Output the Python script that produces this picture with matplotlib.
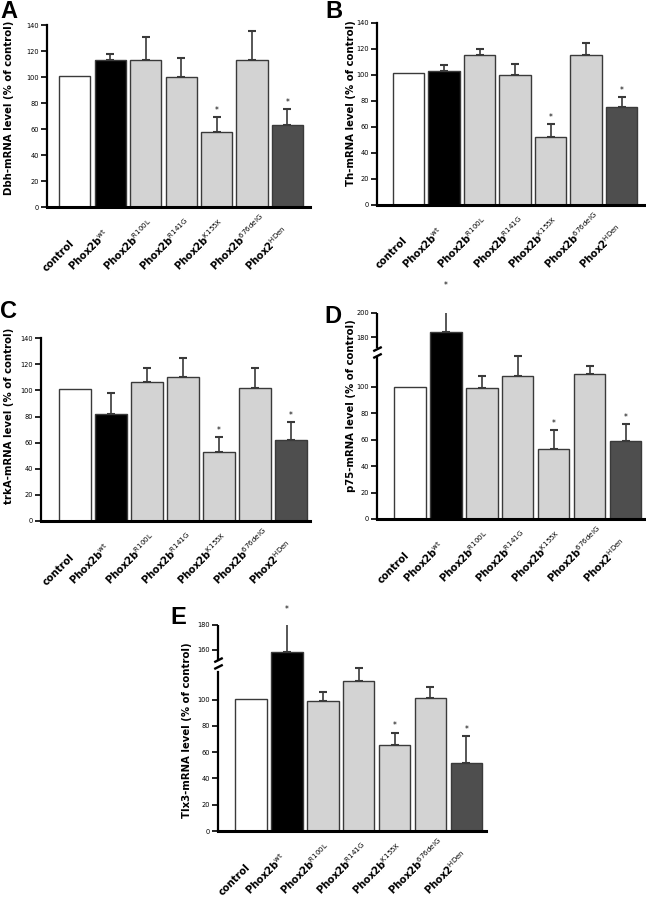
import numpy as np
import matplotlib
matplotlib.use("Agg")
import matplotlib.pyplot as plt
from matplotlib.path import Path

plt.rcParams['font.family'] = 'DejaVu Sans'

groups = ['control', 'Phox2b$^{\\mathrm{wt}}$', 'Phox2b$^{\\mathrm{R100L}}$', 'Phox2b$^{\\mathrm{R141G}}$',
          'Phox2b$^{\\mathrm{K155X}}$', 'Phox2b$^{\\mathrm{676delG}}$', 'Phox2$^{\\mathrm{HDen}}$']
colors = ['white', 'black', '#d3d3d3', '#d3d3d3', '#d3d3d3', '#d3d3d3', '#4e4e4e']

dbh_mean = [101, 113, 113.5, 100, 57.5, 113.5, 63]
dbh_err = [0, 4.5, 17.5, 15, 11.5, 22, 12.5]
dbh_stars = [4, 6]

th_mean = [101, 103, 115, 100, 52, 115, 75]
th_err = [0, 4.5, 5, 8.5, 10, 9.5, 8]
th_stars = [4, 6]

trka_mean = [101, 82, 106.5, 110, 53, 102, 62]
trka_err = [0, 16, 10.5, 15, 11, 15, 13.5]
trka_stars = [4, 6]

p75_mean = [100, 184, 99, 108.5, 53, 109.5, 59]
p75_err = [0, 32.6, 9.5, 15, 14, 6, 13]
p75_stars = [1, 4, 6]

tlx3_mean = [100.5, 158, 99, 114, 65.5, 101, 52]
tlx3_err = [0, 29, 7, 10, 9.5, 9, 20.3]
tlx3_stars = [1, 4, 6]

fig = plt.figure(figsize=(6.46, 8.99), dpi=100)


def panel(rect, means, errs, stars, ylabel, xlim, ymax, ticks, lab_xy, brk=None):
    ax = fig.add_axes(rect)
    if brk is not None:
        lo, hi, uhi, r, seg_lo, seg_hi = brk
        xp = [-1000, lo, hi, 1000]
        fp = [-1000, lo, uhi, uhi + (1000 - hi) * r]
        ax.set_yscale('function', functions=(lambda v: np.interp(v, xp, fp),
                                             lambda u: np.interp(u, fp, xp)))
    x = np.arange(len(means))
    ax.bar(x, means, width=0.88, color=colors, edgecolor='#3a3a3a', linewidth=1.0, zorder=2)
    ax.errorbar(x[1:], means[1:], yerr=[np.zeros(len(means) - 1), errs[1:]], fmt='none',
                ecolor='#3a3a3a', elinewidth=1.2, capsize=3.2, capthick=1.5, zorder=1)
    for i in stars:
        ax.annotate('*', (x[i], means[i] + errs[i]), xytext=(0, 1.5), textcoords='offset points',
                    ha='center', va='bottom', fontsize=5.5, annotation_clip=False)
    ax.set_xlim(*xlim)
    ax.set_ylim(0, ymax)
    ax.set_yticks(ticks)
    ax.set_xticks([])
    # rotated group labels, anchored at their lower-left start
    for i, g in enumerate(groups):
        dx = -20.5 if i == 0 else -26.5
        ax.annotate(g, (x[i], 0), xycoords=('data', 'axes fraction'), xytext=(dx, -46.5),
                    textcoords='offset points', rotation=45, rotation_mode='anchor',
                    ha='left', va='baseline', fontsize=7.2, fontweight='bold',
                    annotation_clip=False)
    ax.tick_params(axis='y', labelsize=4.8, length=4.5, width=1.2, pad=1.5)
    for s in ['top', 'right']:
        ax.spines[s].set_visible(False)
    ax.spines['left'].set_linewidth(1.6)
    ax.spines['bottom'].set_linewidth(2.2)
    ax.spines['bottom'].set_zorder(3)
    ax.set_ylabel(ylabel, fontsize=7.3, fontweight='bold')
    ax.yaxis.set_label_coords(*lab_xy)
    if brk is not None:
        ax.spines['left'].set_bounds(0, seg_lo)
        tr = ax.get_yaxis_transform()
        ax.plot([0, 0], [seg_hi, ymax], transform=tr, color='black', lw=1.6,
                clip_on=False, solid_capstyle='butt')
        slash = Path([(-1, -1.3), (1, -0.3), (-1, 0.3), (1, 1.3)],
                     [Path.MOVETO, Path.LINETO, Path.MOVETO, Path.LINETO])
        ymid = np.interp((lo + uhi) / 2, fp, xp)
        ax.plot([0], [ymid], marker=slash, markersize=8, mew=1.7, color='black',
                transform=tr, clip_on=False)
    return ax


panel([0.0728, 0.7697, 0.4071, 0.2024], dbh_mean, dbh_err, dbh_stars,
      'Dbh-mRNA level (% of control)', (-0.785, 6.64), 140, range(0, 141, 20), (-0.125, 0.547))
panel([0.5841, 0.7723, 0.4155, 0.2024], th_mean, th_err, th_stars,
      'Th-mRNA level (% of control)', (-0.88, 6.68), 140, range(0, 141, 20), (-0.079, 0.556))
panel([0.0635, 0.4205, 0.4164, 0.2032], trka_mean, trka_err, trka_stars,
      'trkA-mRNA level (% of control)', (-0.95, 6.53), 140, range(0, 141, 20), (-0.100, 0.575))
panel([0.5841, 0.4227, 0.4155, 0.2295], p75_mean, p75_err, p75_stars,
      'p75-mRNA level (% of control)', (-0.90, 6.56), 200, [0, 20, 40, 60, 80, 100, 180, 200],
      (-0.079, 0.548), brk=(124, 171, 129.2, 0.93, 122, 171))
panel([0.3375, 0.0756, 0.4149, 0.2295], tlx3_mean, tlx3_err, tlx3_stars,
      'Tlx3-mRNA level (% of control)', (-0.92, 6.55), 180, [0, 20, 40, 60, 80, 100, 160, 180],
      (-0.098, 0.49), brk=(125, 152, 130.4, 0.952, 121, 152))

for lab, xp_, yp_ in [('A', 0, 0), ('B', 325, 0), ('C', 0, 300), ('D', 324, 305), ('E', 170, 606)]:
    fig.text(xp_ / 646, 1 - yp_ / 899, lab, fontsize=17, fontweight='bold',
             family='Liberation Sans', ha='left', va='top')

fig.savefig('out.png', dpi=100)
